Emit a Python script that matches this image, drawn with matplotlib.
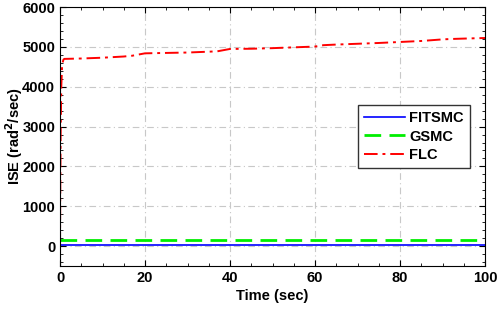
import matplotlib
matplotlib.use("Agg")
import matplotlib.pyplot as plt
from matplotlib.ticker import MultipleLocator
import numpy as np

plt.rcParams["font.family"] = ["Liberation Sans", "DejaVu Sans"]
plt.rcParams["font.weight"] = "bold"

# ISE curves
t_flc = [0, 0.05, 0.15, 0.3, 0.5, 0.8, 1, 5, 10, 15, 17, 20, 30, 37, 40, 45, 50, 55, 60, 62,
         65, 70, 75, 80, 85, 90, 92, 95, 100]
ise_flc = [0, 1200, 2800, 4000, 4550, 4680, 4700, 4710, 4730, 4760, 4780, 4840, 4860, 4890, 4950,
           4955, 4970, 4990, 5010, 5045, 5060, 5080, 5100, 5125, 5150, 5190, 5200, 5210, 5225]
t_line = [0, 100]
ise_gsmc = [140, 140]
ise_fitsmc = [35, 35]

fig = plt.figure(figsize=(4.98, 3.10), dpi=100)
ax = fig.add_axes([0.1205, 0.142, 0.8535, 0.835])

ax.plot(t_line, ise_fitsmc, color="#0000ff", lw=1.2, label="FITSMC")
ax.plot(t_line, ise_gsmc, color="#00ee00", lw=2.0, ls=(0, (6, 3)), label="GSMC")
ax.plot(t_flc, ise_flc, color="#ff0000", lw=1.4, ls=(0, (7, 2.5, 1.5, 2.5)), label="FLC")

ax.set_xlim(0, 100)
ax.set_ylim(-500, 6000)
ax.xaxis.set_major_locator(MultipleLocator(20))
ax.xaxis.set_minor_locator(MultipleLocator(5))
ax.yaxis.set_major_locator(MultipleLocator(1000))
ax.yaxis.set_minor_locator(MultipleLocator(200))
ax.tick_params(which="both", direction="in", top=True, right=True, labelsize=10.5)
ax.tick_params(which="major", length=4)
ax.tick_params(which="minor", length=2)
for lbl in ax.get_xticklabels() + ax.get_yticklabels():
    lbl.set_fontweight("bold")

ax.grid(True, which="major", color="#c8c8c8", ls=(0, (6, 3, 1, 3)), lw=0.8)
ax.set_axisbelow(True)

ax.set_xlabel("Time (sec)", fontsize=10.5, fontweight="bold", labelpad=3)
ax.set_ylabel("ISE (rad$^{\\mathbf{2}}$/sec)", fontsize=10.5, fontweight="bold")
ax.yaxis.set_label_coords(-0.082, 0.5)

leg = ax.legend(loc="center", bbox_to_anchor=(0.833, 0.50), fontsize=10.5, fancybox=False,
                edgecolor="#333333", framealpha=1, handlelength=2.8, borderpad=0.4,
                labelspacing=0.3, handletextpad=0.3)
leg.get_frame().set_linewidth(1.0)
for txt in leg.get_texts():
    txt.set_fontweight("bold")

fig.savefig("out.png", dpi=100, facecolor="white")
